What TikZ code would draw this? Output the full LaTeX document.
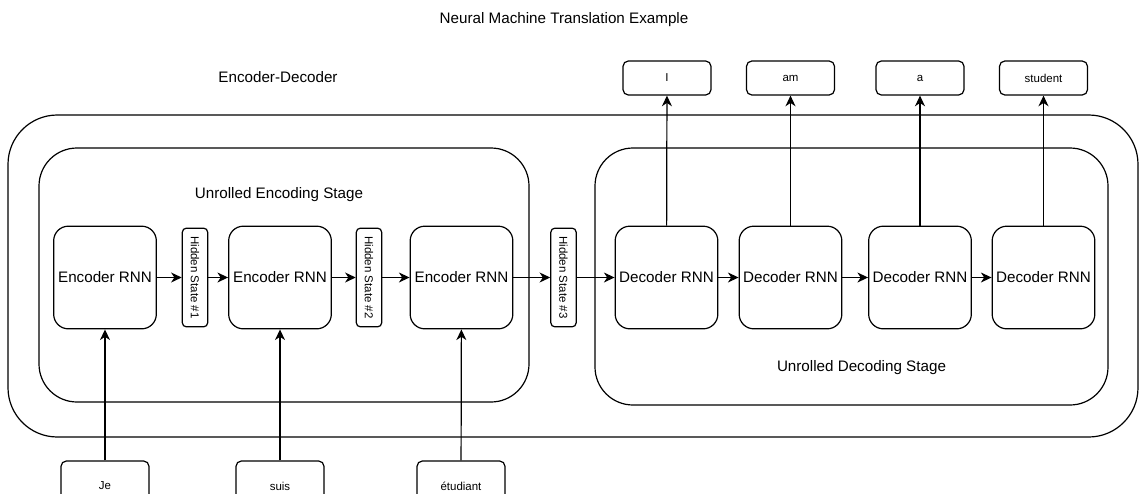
\documentclass[tikz,border=0pt]{standalone}
\usepackage{fontspec}
\setmainfont{Liberation Sans}
\usetikzlibrary{arrows.meta}
\tikzset{
  rnn/.style={draw, rounded corners=11pt, minimum width=77pt, minimum height=77pt, inner sep=1pt, font=\fontsize{11.4}{13}\selectfont},
  hidden/.style={draw, rounded corners=3pt, rotate=-90, minimum width=74pt, minimum height=19pt, inner sep=1pt, font=\fontsize{8.6}{10}\selectfont},
  word/.style={draw, rounded corners=4pt, minimum width=66pt, minimum height=25.5pt, font=\fontsize{8.6}{10}\selectfont},
  stagetext/.style={font=\fontsize{11.4}{13}\selectfont},
  link/.style={-{Stealth[length=8pt,width=7.5pt,inset=2.5pt]}}
}
\begin{document}
\begin{tikzpicture}[x=0.75pt, y=-0.75pt, line width=0.9pt]
  \useasboundingbox (0,0) rectangle (1139,493);
  % frames
  \draw[rounded corners=37pt] (8,115) rectangle (1138,437);
  \draw[rounded corners=28.5pt] (39,148) rectangle (529,402);
  \draw[rounded corners=28.5pt] (595,148) rectangle (1108,405);
  % texts
  \node[stagetext] (title) at (564,20) {Neural Machine Translation Example};
  \node[stagetext] (encdec) at (278,77) {Encoder-Decoder};
  \node[stagetext] (encstage) at (279,195) {Unrolled Encoding Stage};
  \node[stagetext] (decstage) at (861.5,368) {Unrolled Decoding Stage};
  % encoder
  \node[rnn] (enc1) at (105,277.5) {Encoder RNN};
  \node[hidden] (hs1) at (195,277.5) {Hidden State \#1};
  \node[rnn] (enc2) at (280,277.5) {Encoder RNN};
  \node[hidden] (hs2) at (369,277.5) {Hidden State \#2};
  \node[rnn] (enc3) at (461.5,277.5) {Encoder RNN};
  \node[hidden] (hs3) at (563.5,277.5) {Hidden State \#3};
  % decoder
  \node[rnn] (dec1) at (666.5,277.5) {Decoder RNN};
  \node[rnn] (dec2) at (790.5,277.5) {Decoder RNN};
  \node[rnn] (dec3) at (920,277.5) {Decoder RNN};
  \node[rnn] (dec4) at (1043.5,277.5) {Decoder RNN};
  % words
  \node[word] (je) at (105,486) [minimum height=37.5pt] {Je};
  \node[word] (suis) at (280,486) [minimum height=37.5pt] {suis};
  \node[word] (etud) at (461,486) [minimum height=37.5pt] {étudiant};
  \node[word] (wI) at (667,78) {I};
  \node[word] (wam) at (790.5,78) {am};
  \node[word] (wa) at (920,78) {a};
  \node[word] (wstudent) at (1043.5,78) {student};
  % connectors
  \draw[link] (enc1) -- (hs1);
  \draw[link] (hs1) -- (enc2);
  \draw[link] (enc2) -- (hs2);
  \draw[link] (hs2) -- (enc3);
  \draw[link] (enc3) -- (hs3);
  \draw[link] (hs3) -- (dec1);
  \draw[link] (dec1) -- (dec2);
  \draw[link] (dec2) -- (dec3);
  \draw[link] (dec3) -- (dec4);
  \draw[link] (je) -- (enc1);
  \draw[link] (suis) -- (enc2);
  \draw[link] (etud) -- (enc3);
  \draw[link] (dec1) -- (wI);
  \draw[link] (dec2) -- (wam);
  \draw[link] (dec3) -- (wa);
  \draw[link] (dec4) -- (wstudent);
\end{tikzpicture}
\end{document}
